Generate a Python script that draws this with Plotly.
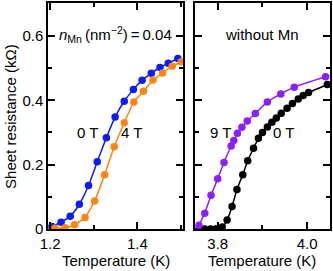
import plotly.graph_objects as go

# ---- data ----
T_mn_0T = [1.204, 1.225, 1.246, 1.267, 1.288, 1.308, 1.329, 1.349, 1.370, 1.391, 1.411, 1.432, 1.452, 1.471, 1.493]
R_mn_0T = [0.008, 0.021, 0.040, 0.077, 0.135, 0.209, 0.284, 0.348, 0.397, 0.434, 0.462, 0.484, 0.502, 0.515, 0.530]

T_mn_4T = [1.211, 1.234, 1.256, 1.280, 1.302, 1.325, 1.347, 1.370, 1.392, 1.414, 1.436, 1.458, 1.480, 1.501]
R_mn_4T = [0.002, 0.004, 0.013, 0.036, 0.087, 0.169, 0.256, 0.330, 0.395, 0.428, 0.463, 0.485, 0.506, 0.520]

T_no_9T = [3.758, 3.771, 3.785, 3.800, 3.814, 3.830, 3.836, 3.844, 3.854, 3.866, 3.884, 3.911, 3.941, 3.971, 4.041]
R_no_9T = [0.012, 0.049, 0.105, 0.156, 0.207, 0.258, 0.275, 0.298, 0.316, 0.336, 0.359, 0.395, 0.420, 0.441, 0.473]

T_no_0T = [3.758, 3.771, 3.784, 3.797, 3.810, 3.821, 3.832, 3.843, 3.856, 3.867, 3.880, 3.891, 3.900, 3.911,
           3.921, 3.931, 3.942, 3.955, 3.967, 3.980, 3.991, 4.003, 4.045]
R_no_0T = [0.000, 0.000, 0.000, 0.001, 0.006, 0.028, 0.070, 0.123, 0.169, 0.212, 0.251, 0.282, 0.300, 0.317,
           0.332, 0.345, 0.360, 0.375, 0.390, 0.404, 0.415, 0.424, 0.449]

y_ticks = [0, 0.2, 0.4, 0.6]
y_tick_text = ["0", "0.2", "0.4", "0.6"]
x1_ticks = [1.2, 1.4]
x2_ticks = [3.8, 4.0]

FONT = "Liberation Sans, Arial, Helvetica, sans-serif"
BLUE = "#0b1bff"
ORANGE = "#ff8412"
PURPLE = "#8a1fff"
BLACK = "#000000"

fig = go.Figure()

def add(x, y, color, xa, ya):
    fig.add_trace(go.Scatter(
        x=x, y=y, mode="lines+markers", xaxis=xa, yaxis=ya,
        line=dict(color=color, width=1.5, shape="spline", smoothing=0.5),
        marker=dict(color=color, size=7.5),
        showlegend=False, cliponaxis=True))

add(T_mn_0T, R_mn_0T, BLUE, "x", "y")
add(T_mn_4T, R_mn_4T, ORANGE, "x", "y")
add(T_no_0T, R_no_0T, BLACK, "x2", "y2")
add(T_no_9T, R_no_9T, PURPLE, "x2", "y2")

axis_common = dict(
    showline=True, linecolor="black", linewidth=1.5, mirror="allticks",
    ticks="inside", ticklen=7, tickwidth=1.5, tickcolor="black",
    showgrid=False, zeroline=False,
    tickfont=dict(family=FONT, size=15, color="black"),
)
minor_common = dict(ticks="inside", ticklen=4, tickwidth=1.5, tickcolor="black", showgrid=False)

fig.update_layout(
    width=333, height=271,
    margin=dict(l=48, r=1, t=1, b=42),
    paper_bgcolor="white", plot_bgcolor="white",
    font=dict(family=FONT, size=15, color="black"),
    xaxis=dict(domain=[0, 0.479], range=[1.195, 1.505], tickvals=x1_ticks,
               tickformat=".1f", anchor="y",
               minor=dict(dtick=0.1, tick0=1.2, **minor_common), **axis_common),
    yaxis=dict(domain=[0, 1], range=[0, 0.7025], tickvals=y_ticks, ticktext=y_tick_text,
               anchor="x",
               minor=dict(dtick=0.1, tick0=0, **minor_common), **axis_common),
    xaxis2=dict(domain=[0.521, 1], range=[3.749, 4.051], tickvals=x2_ticks,
                tickformat=".1f", anchor="y2",
                minor=dict(dtick=0.1, tick0=3.8, **minor_common), **axis_common),
    yaxis2=dict(domain=[0, 1], range=[0, 0.7025], tickvals=y_ticks, showticklabels=False,
                anchor="x2",
                minor=dict(dtick=0.1, tick0=0, **minor_common), **axis_common),
)

ann = []
def text(x, y, s, xref="paper", yref="paper", size=15, textangle=0, xanchor="center", yanchor="middle"):
    ann.append(dict(x=x, y=y, xref=xref, yref=yref, text=s, showarrow=False,
                    font=dict(family=FONT, size=size, color="black"),
                    textangle=textangle, xanchor=xanchor, yanchor=yanchor))

text(-0.135, 0.5, "Sheet resistance (kΩ)", textangle=-90)
text(0.2395, -0.14, "Temperature (K)")
text(0.7605, -0.14, "Temperature (K)")
text(1.349, 0.605, "<i>n</i><sub>Mn</sub>\u2009(nm<sup>−2</sup>)\u2009=\u20090.04", xref="x", yref="y", size=15)
text(3.9, 0.605, "without Mn", xref="x2", yref="y2")
text(1.285, 0.30, "0 T", xref="x", yref="y")
text(1.386, 0.30, "4 T", xref="x", yref="y")
text(3.806, 0.30, "9 T", xref="x2", yref="y2")
text(3.948, 0.30, "0 T", xref="x2", yref="y2")
fig.update_layout(annotations=ann)

fig.write_html("out.html", config={"displayModeBar": False},
               post_script="document.body.style.margin='0';")
